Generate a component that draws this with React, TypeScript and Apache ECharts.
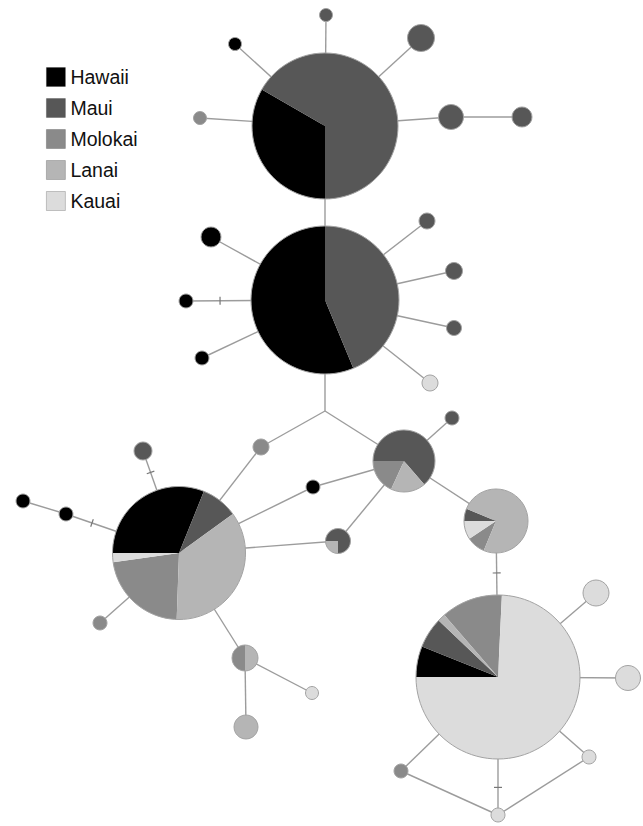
import { useEffect, useRef } from 'react';
import * as echarts from 'echarts';

// Islands and their grey shades
const islands = ['Hawaii', 'Maui', 'Molokai', 'Lanai', 'Kauai'];
const islandColors = ['#000000', '#575757', '#8a8a8a', '#b5b5b5', '#dcdcdc'];
// clockwise order of slices inside each pie (indices into islands)
const sliceOrder = [0, 1, 3, 2, 4];

// Haplotype ids ("J" is an unsampled median vector)
const nodeIds = [
  'A', 'B', 'C', 'D', 'E', 'F', 'G', 'H', 'J',
  'n1', 'n2', 'n3', 'n4', 'n5', 'n6',
  'b1', 'b2', 'b3', 'b4', 'b5', 'b6', 'b7',
  'm1', 'd1', 'k1', 'c1', 'c2', 'c3', 'c4', 'h1', 'h2',
  'g1', 'g2', 'g3', 'g4', 'g5',
];

// Sample counts per haplotype: [Hawaii, Maui, Molokai, Lanai, Kauai]
const counts = [
  [5, 10, 0, 0, 0],
  [9, 7, 0, 0, 0],
  [14, 4, 10, 16, 1],
  [0, 7, 2, 2, 0],
  [0, 3, 0, 1, 0],
  [0, 2, 3, 24, 3],
  [4, 4, 8, 1, 49],
  [0, 0, 1, 1, 0],
  [0, 0, 0, 0, 0],
  [0, 1, 0, 0, 0],
  [1, 0, 0, 0, 0],
  [0, 3, 0, 0, 0],
  [0, 0, 1, 0, 0],
  [0, 3, 0, 0, 0],
  [0, 2, 0, 0, 0],
  [2, 0, 0, 0, 0],
  [1, 0, 0, 0, 0],
  [1, 0, 0, 0, 0],
  [0, 1, 0, 0, 0],
  [0, 1, 0, 0, 0],
  [0, 1, 0, 0, 0],
  [0, 0, 0, 0, 1],
  [0, 0, 1, 0, 0],
  [0, 1, 0, 0, 0],
  [1, 0, 0, 0, 0],
  [0, 2, 0, 0, 0],
  [1, 0, 0, 0, 0],
  [1, 0, 0, 0, 0],
  [0, 0, 1, 0, 0],
  [0, 0, 0, 0, 1],
  [0, 0, 0, 3, 0],
  [0, 0, 0, 0, 3],
  [0, 0, 0, 0, 3],
  [0, 0, 0, 0, 1],
  [0, 0, 0, 0, 1],
  [0, 0, 1, 0, 0],
];

// Network layout (layout units) and node radii
const nodeX = [
  325, 325, 179, 404, 338, 496, 498, 245, 325,
  326, 235, 421, 200, 451, 522,
  211, 186, 202, 427, 454, 454, 430,
  261, 452, 313, 143, 66, 23, 100, 312, 246,
  596, 628, 589, 498, 401,
];
const nodeY = [
  126, 300, 553, 461, 541, 521, 677, 658, 411,
  15, 44, 38, 118, 117, 117,
  237, 301, 358, 221, 271, 328, 383,
  447, 418, 487, 451, 514, 501, 623, 693, 727,
  593, 678, 757, 815, 771,
];
const nodeSize = [
  73, 74, 66.5, 31, 12.5, 32, 82, 13, 0,
  6.5, 6.5, 13.5, 6.5, 12.5, 10,
  10, 7, 7, 8, 8.5, 7.5, 8,
  8, 7, 7, 9, 7, 7, 7, 6.5, 12,
  13, 12.5, 7, 7, 7,
];
// bearing (degrees clockwise from north) where the first slice begins
const sliceStart = [
  180, 157.5, 270, 270, 270, 270, 270, 0, 270,
  0, 0, 0, 0, 0, 0,
  0, 0, 0, 0, 0, 0, 0,
  0, 0, 0, 0, 0, 0, 0, 0, 0,
  0, 0, 0, 0, 0,
];

// Mutational links: [from, to, position of a mutation tick along the link or -1]
const links: [string, string, number][] = [
  ['A', 'n1', -1], ['A', 'n2', -1], ['A', 'n3', -1], ['A', 'n4', -1],
  ['A', 'n5', -1], ['n5', 'n6', -1], ['A', 'B', -1],
  ['B', 'b1', -1], ['B', 'b2', 0.755], ['B', 'b3', -1], ['B', 'b4', -1],
  ['B', 'b5', -1], ['B', 'b6', -1], ['B', 'b7', -1], ['B', 'J', -1],
  ['J', 'm1', -1], ['J', 'D', -1], ['m1', 'C', -1],
  ['D', 'd1', -1], ['D', 'k1', -1], ['D', 'E', -1], ['D', 'F', -1],
  ['k1', 'C', -1], ['E', 'C', -1],
  ['C', 'c1', 0.79], ['C', 'c2', 0.77], ['c2', 'c3', -1], ['C', 'c4', -1],
  ['C', 'H', -1], ['H', 'h1', -1], ['H', 'h2', -1],
  ['F', 'G', 0.333], ['G', 'g1', -1], ['G', 'g2', -1], ['G', 'g3', -1],
  ['G', 'g4', 0.8], ['G', 'g5', -1], ['g5', 'g4', -1], ['g3', 'g4', -1],
];

const WIDTH = 643;
const HEIGHT = 826;
const FONT = '"Liberation Sans", Arial, Helvetica, sans-serif';

function slicesFor(island: number) {
  const out: { name: string; value: number[] }[] = [];
  nodeIds.forEach((id, n) => {
    const c = counts[n];
    const total = c.reduce((s, v) => s + v, 0);
    if (!total || !c[island]) return;
    let before = 0;
    for (const k of sliceOrder) {
      if (k === island) break;
      before += c[k];
    }
    const b0 = sliceStart[n] + (before / total) * 360;
    const b1 = b0 + (c[island] / total) * 360;
    out.push({ name: id, value: [nodeX[n], nodeY[n], nodeSize[n], b0, b1] });
  });
  return out;
}

function linkData() {
  return links.map(([a, b, t]) => {
    const i = nodeIds.indexOf(a);
    const j = nodeIds.indexOf(b);
    return { name: a + '-' + b, value: [nodeX[i], nodeY[i], nodeX[j], nodeY[j], t] };
  });
}

function outlineData() {
  return nodeIds
    .map((id, n) => ({ name: id, value: [nodeX[n], nodeY[n], nodeSize[n]] }))
    .filter((d) => d.value[2] > 0);
}

const rad = (bearing: number) => ((bearing - 90) * Math.PI) / 180;

export default function App() {
  const ref = useRef<HTMLDivElement>(null);

  useEffect(() => {
    if (!ref.current) return;
    const chart = echarts.init(ref.current, undefined, { renderer: 'svg' });

    const islandSeries = islands.map((name, k) => ({
      type: 'custom',
      name,
      coordinateSystem: 'cartesian2d',
      itemStyle: { color: islandColors[k] },
      encode: { x: 0, y: 1 },
      z: 3,
      silent: true,
      data: slicesFor(k),
      renderItem: (_p: any, api: any) => {
        const p = api.coord([api.value(0), api.value(1)]);
        const r = api.size([api.value(2), 0])[0];
        const b0 = api.value(3);
        const b1 = api.value(4);
        const style = { fill: islandColors[k] };
        if (b1 - b0 >= 359.99) {
          return { type: 'circle', shape: { cx: p[0], cy: p[1], r }, style };
        }
        return {
          type: 'sector',
          shape: {
            cx: p[0], cy: p[1], r0: 0, r,
            startAngle: rad(b0), endAngle: rad(b1), clockwise: true,
          },
          style,
        };
      },
    }));

    chart.setOption({
      animation: false,
      backgroundColor: '#ffffff',
      grid: { left: 0, top: 0, right: 0, bottom: 0 },
      xAxis: { type: 'value', min: 0, max: WIDTH, show: false },
      yAxis: { type: 'value', min: 0, max: HEIGHT, inverse: true, show: false },
      legend: {
        data: islands,
        orient: 'vertical',
        left: 46,
        top: 67,
        padding: 0,
        icon: 'rect',
        itemWidth: 19,
        itemHeight: 19,
        itemGap: 11,
        selectedMode: false,
        itemStyle: { borderColor: 'rgba(0,0,0,0.25)', borderWidth: 0.8 },
        textStyle: { fontSize: 19.5, fontFamily: FONT, color: '#111111' },
      },
      series: [
        {
          type: 'custom',
          name: 'links',
          coordinateSystem: 'cartesian2d',
          encode: { x: 0, y: 1 },
          z: 1,
          silent: true,
          data: linkData(),
          renderItem: (_p: any, api: any) => {
            const p1 = api.coord([api.value(0), api.value(1)]);
            const p2 = api.coord([api.value(2), api.value(3)]);
            const t = api.value(4);
            const lineStyle = { stroke: '#9c9c9c', lineWidth: 1.4 };
            const children: any[] = [
              { type: 'line', shape: { x1: p1[0], y1: p1[1], x2: p2[0], y2: p2[1] }, style: lineStyle },
            ];
            if (t >= 0) {
              const dx = p2[0] - p1[0];
              const dy = p2[1] - p1[1];
              const len = Math.sqrt(dx * dx + dy * dy) || 1;
              const nx = -dy / len;
              const ny = dx / len;
              const mx = p1[0] + dx * t;
              const my = p1[1] + dy * t;
              children.push({
                type: 'line',
                shape: { x1: mx - nx * 4, y1: my - ny * 4, x2: mx + nx * 4, y2: my + ny * 4 },
                style: { stroke: '#777777', lineWidth: 1.2 },
              });
            }
            return { type: 'group', children };
          },
        },
        ...islandSeries,
        {
          type: 'custom',
          name: 'outlines',
          coordinateSystem: 'cartesian2d',
          encode: { x: 0, y: 1 },
          z: 4,
          silent: true,
          data: outlineData(),
          renderItem: (_p: any, api: any) => {
            const p = api.coord([api.value(0), api.value(1)]);
            const r = api.size([api.value(2), 0])[0];
            return {
              type: 'circle',
              shape: { cx: p[0], cy: p[1], r },
              style: { fill: 'none', stroke: '#a3a3a3', lineWidth: 1 },
            };
          },
        },
      ],
    });

    return () => chart.dispose();
  }, []);

  return (
    <div
      ref={ref}
      style={{ position: 'absolute', left: 0, top: 0, width: WIDTH, height: HEIGHT, background: '#fff' }}
    />
  );
}
